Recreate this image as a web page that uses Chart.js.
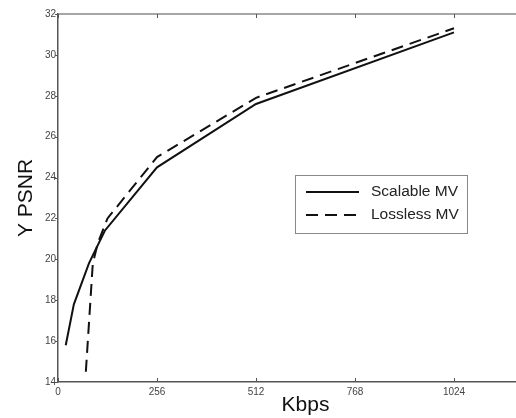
<!DOCTYPE html>
<html>
<head>
<meta charset="utf-8">
<script src="https://cdn.jsdelivr.net/npm/chart.js@4/dist/chart.umd.min.js"></script>
<style>
  html, body { margin: 0; padding: 0; background: #fff; overflow: hidden; }
  #wrap { width: 560px; height: 418px; }
</style>
</head>
<body>
<div id="wrap"><canvas id="psnrChart" width="560" height="418"></canvas></div>
<script>
const scalableKbps = [20, 41, 80, 121, 256, 512, 1024];
const scalablePsnr = [15.8, 17.8, 19.8, 21.4, 24.5, 27.6, 31.1];
const losslessKbps = [72, 90, 103, 128, 256, 512, 1024];
const losslessPsnr = [14.5, 19.8, 20.8, 22.0, 25.0, 27.9, 31.3];
const xTicks = [0, 256, 512, 768, 1024];
const yTicks = [14, 16, 18, 20, 22, 24, 26, 28, 30, 32];

const toPoints = (xs, ys) => xs.map((x, i) => ({ x: x, y: ys[i] }));

// matlab style frame: gray top line, inward ticks, boxed legend inside the plot
const matlabFrame = {
    id: 'matlabFrame',
    afterDraw(chart) {
        const ctx = chart.ctx;
        const a = chart.chartArea;
        const xs = chart.scales.x;
        const ys = chart.scales.y;
        ctx.save();
        ctx.strokeStyle = '#888';
        ctx.lineWidth = 1.5;
        ctx.beginPath();
        ctx.moveTo(a.left, a.top);
        ctx.lineTo(a.right, a.top);
        ctx.stroke();
        ctx.strokeStyle = '#555';
        ctx.lineWidth = 1;
        xTicks.forEach(v => {
            const px = Math.round(xs.getPixelForValue(v)) + 0.5;
            ctx.beginPath();
            ctx.moveTo(px, a.bottom);
            ctx.lineTo(px, a.bottom - 4);
            ctx.moveTo(px, a.top);
            ctx.lineTo(px, a.top + 4);
            ctx.stroke();
        });
        yTicks.forEach(v => {
            const py = Math.round(ys.getPixelForValue(v)) + 0.5;
            ctx.beginPath();
            ctx.moveTo(a.left - 3, py);
            ctx.lineTo(a.left, py);
            ctx.stroke();
        });

        // legend box
        const bx = 295, by = 175, bw = 172, bh = 58;
        ctx.fillStyle = '#fff';
        ctx.fillRect(bx, by, bw, bh);
        ctx.strokeStyle = '#888';
        ctx.lineWidth = 1;
        ctx.strokeRect(bx + 0.5, by + 0.5, bw, bh);
        ctx.font = '15.5px "Liberation Sans", Arial, sans-serif';
        ctx.fillStyle = '#222';
        ctx.textBaseline = 'middle';
        chart.data.datasets.forEach((ds, i) => {
            const ly = by + 17 + i * 23;
            ctx.strokeStyle = '#111';
            ctx.lineWidth = 2;
            ctx.setLineDash(ds.borderDash || []);
            ctx.beginPath();
            ctx.moveTo(bx + 11, ly);
            ctx.lineTo(bx + 64, ly);
            ctx.stroke();
            ctx.setLineDash([]);
            ctx.fillText(ds.label, bx + 76, ly);
        });
        ctx.restore();
    }
};

new Chart(document.getElementById('psnrChart'), {
    type: 'line',
    data: {
        datasets: [
            {
                label: 'Scalable MV',
                data: toPoints(scalableKbps, scalablePsnr),
                borderColor: '#111',
                borderWidth: 2,
                pointRadius: 0,
                tension: 0,
                fill: false
            },
            {
                label: 'Lossless MV',
                data: toPoints(losslessKbps, losslessPsnr),
                borderColor: '#111',
                borderWidth: 2,
                borderDash: [12, 7],
                pointRadius: 0,
                tension: 0,
                fill: false
            }
        ]
    },
    options: {
        responsive: false,
        animation: false,
        layout: { padding: { top: 14, right: 7, left: 0, bottom: 0 } },
        plugins: {
            legend: { display: false },
            tooltip: { enabled: false }
        },
        scales: {
            x: {
                type: 'linear',
                min: 0,
                max: 1280,
                afterBuildTicks: s => { s.ticks = xTicks.map(v => ({ value: v })); },
                afterFit: s => { s.height = 36; },
                grid: { drawOnChartArea: false, drawTicks: false },
                border: { color: '#555', width: 1.5 },
                ticks: {
                    color: '#444',
                    font: { size: 10, family: '"Liberation Sans", Arial, sans-serif' },
                    padding: 4,
                    maxRotation: 0,
                    callback: v => String(v)
                },
                title: {
                    display: true,
                    text: 'Kbps',
                    color: '#111',
                    font: { size: 21, family: '"Liberation Sans", Arial, sans-serif' },
                    padding: { top: 0, bottom: 0 }
                }
            },
            y: {
                min: 14,
                max: 32,
                afterBuildTicks: s => { s.ticks = yTicks.map(v => ({ value: v })); },
                afterFit: s => { s.width = 58; },
                grid: { drawOnChartArea: false, drawTicks: false },
                border: { color: '#555', width: 1.5 },
                ticks: {
                    color: '#444',
                    font: { size: 10, family: '"Liberation Sans", Arial, sans-serif' },
                    padding: 2
                },
                title: {
                    display: true,
                    text: 'Y PSNR',
                    color: '#111',
                    font: { size: 21, family: '"Liberation Sans", Arial, sans-serif' },
                    padding: { top: 14, bottom: 0 }
                }
            }
        }
    },
    plugins: [matlabFrame]
});
</script>
</body>
</html>
